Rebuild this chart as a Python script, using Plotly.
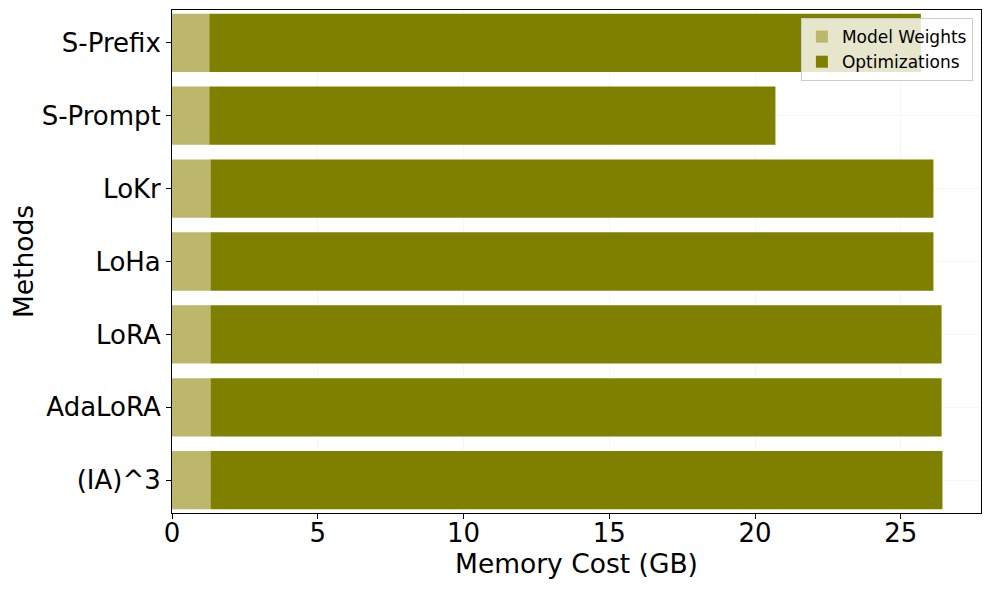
import plotly.graph_objects as go

methods = ["S-Prefix", "S-Prompt", "LoKr", "LoHa", "LoRA", "AdaLoRA", "(IA)^3"]
model_weights = [1.28, 1.28, 1.32, 1.32, 1.32, 1.32, 1.32]
total_memory = [25.69, 20.70, 26.12, 26.12, 26.40, 26.40, 26.43]
optimizations = [t - w for t, w in zip(total_memory, model_weights)]

FONT = "DejaVu Sans"

fig = go.Figure()
fig.add_trace(go.Bar(
    y=methods, x=model_weights, orientation="h",
    name="Model Weights", marker=dict(color="#bdb76b", line=dict(width=0)),
))
fig.add_trace(go.Bar(
    y=methods, x=optimizations, base=model_weights, orientation="h",
    name="Optimizations", marker=dict(color="#808000", line=dict(width=0)),
))

# page body has an 8px margin, so the figure is sized to the visible area
fig.update_layout(
    width=982, height=582,
    margin=dict(l=164, r=9, t=2, b=77),
    plot_bgcolor="white", paper_bgcolor="white",
    barmode="overlay", bargap=0.2,
    font=dict(family=FONT, size=26, color="black"),
    legend=dict(
        x=0.99, y=0.984, xanchor="right", yanchor="top",
        bgcolor="rgba(255,255,255,0.8)", bordercolor="#cccccc", borderwidth=1,
        font=dict(size=17), tracegroupgap=0,
    ),
    showlegend=True,
)
fig.update_xaxes(
    title=dict(text="Memory Cost (GB)", standoff=2, font=dict(size=26.5)),
    range=[0, max(total_memory) * 1.05], tickvals=[0, 5, 10, 15, 20, 25],
    showline=True, linecolor="black", linewidth=1, mirror=True,
    ticks="outside", ticklen=5, tickcolor="black", ticklabelstandoff=-8,
    showgrid=True, gridcolor="#f6f6f6", zeroline=False, automargin=False,
)
fig.update_yaxes(
    title=dict(text="Methods", standoff=10, font=dict(size=26.5)),
    categoryorder="array", categoryarray=methods,
    range=[6.45, -0.45],
    showline=True, linecolor="black", linewidth=1, mirror=True,
    ticks="outside", ticklen=5, tickcolor="black",
    showgrid=True, gridcolor="#f6f6f6", zeroline=False, automargin=False,
)

fig.write_html("out.html")
